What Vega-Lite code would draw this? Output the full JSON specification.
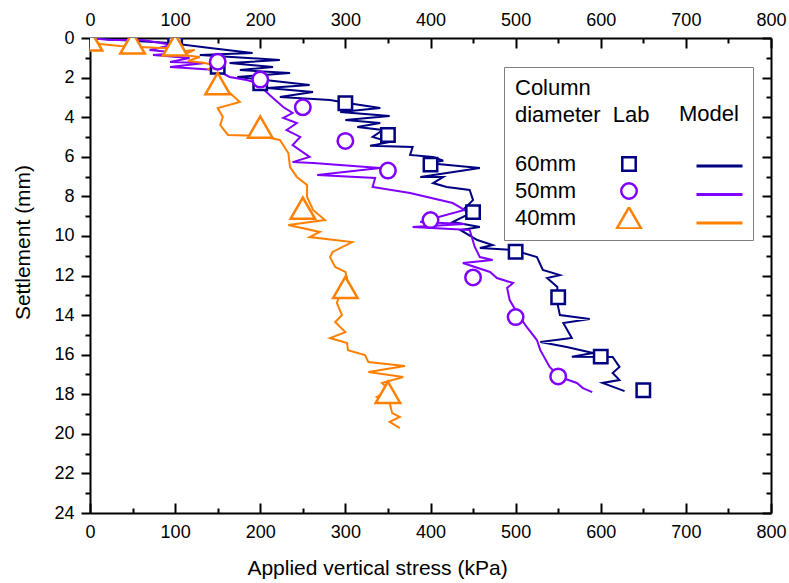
{
  "$schema": "https://vega.github.io/schema/vega-lite/v6.json",
  "width": 681,
  "height": 475,
  "autosize": {"type": "none"},
  "padding": {"left": 90, "top": 38, "right": 18, "bottom": 70},
  "background": "white",
  "config": {
    "view": {"stroke": null},
    "font": "Liberation Sans",
    "axis": {
      "domainColor": "black", "domainWidth": 2, "tickColor": "black", "tickWidth": 2,
      "labelFont": "Liberation Sans", "labelFontSize": 18, "labelColor": "black",
      "titleFont": "Liberation Sans", "titleFontSize": 21, "titleFontWeight": "normal", "titleColor": "black",
      "grid": false, "labelOverlap": false, "labelFlush": false
    },
    "legend": {
      "labelFont": "Liberation Sans", "titleFont": "Liberation Sans",
      "labelColor": "black", "titleColor": "black", "titleFontWeight": "normal"
    }
  },
  "datasets": {
    "model": [
      {"d":"60mm","i":0,"x":0,"y":0},{"d":"60mm","i":1,"x":35,"y":0.1},{"d":"60mm","i":2,"x":94,"y":0.25},{"d":"60mm","i":3,"x":141,"y":0.51},{"d":"60mm","i":4,"x":191,"y":0.76},{"d":"60mm","i":5,"x":129,"y":0.86},{"d":"60mm","i":6,"x":223,"y":1.11},{"d":"60mm","i":7,"x":164,"y":1.26},{"d":"60mm","i":8,"x":215,"y":1.47},{"d":"60mm","i":9,"x":176,"y":1.62},{"d":"60mm","i":10,"x":235,"y":1.77},{"d":"60mm","i":11,"x":173,"y":1.97},{"d":"60mm","i":12,"x":258,"y":2.37},{"d":"60mm","i":13,"x":208,"y":2.53},{"d":"60mm","i":14,"x":262,"y":2.73},{"d":"60mm","i":15,"x":223,"y":2.98},{"d":"60mm","i":16,"x":282,"y":3.13},{"d":"60mm","i":17,"x":302,"y":3.28},{"d":"60mm","i":18,"x":341,"y":3.54},{"d":"60mm","i":19,"x":294,"y":3.74},{"d":"60mm","i":20,"x":352,"y":3.94},{"d":"60mm","i":21,"x":300,"y":4.14},{"d":"60mm","i":22,"x":341,"y":4.3},{"d":"60mm","i":23,"x":314,"y":4.5},{"d":"60mm","i":24,"x":344,"y":4.65},{"d":"60mm","i":25,"x":332,"y":5.0},{"d":"60mm","i":26,"x":352,"y":5.26},{"d":"60mm","i":27,"x":329,"y":5.45},{"d":"60mm","i":28,"x":379,"y":5.51},{"d":"60mm","i":29,"x":376,"y":5.91},{"d":"60mm","i":30,"x":403,"y":6.01},{"d":"60mm","i":31,"x":415,"y":6.2},{"d":"60mm","i":32,"x":396,"y":6.32},{"d":"60mm","i":33,"x":458,"y":6.57},{"d":"60mm","i":34,"x":388,"y":7.02},{"d":"60mm","i":35,"x":415,"y":7.02},{"d":"60mm","i":36,"x":403,"y":7.33},{"d":"60mm","i":37,"x":419,"y":7.53},{"d":"60mm","i":38,"x":446,"y":7.68},{"d":"60mm","i":39,"x":450,"y":8.19},{"d":"60mm","i":40,"x":438,"y":8.69},{"d":"60mm","i":41,"x":450,"y":8.79},{"d":"60mm","i":42,"x":426,"y":9.3},{"d":"60mm","i":43,"x":458,"y":9.55},{"d":"60mm","i":44,"x":435,"y":9.7},{"d":"60mm","i":45,"x":455,"y":10.21},{"d":"60mm","i":46,"x":473,"y":10.46},{"d":"60mm","i":47,"x":458,"y":10.61},{"d":"60mm","i":48,"x":497,"y":10.71},{"d":"60mm","i":49,"x":525,"y":11.07},{"d":"60mm","i":50,"x":532,"y":11.72},{"d":"60mm","i":51,"x":552,"y":11.98},{"d":"60mm","i":52,"x":537,"y":12.13},{"d":"60mm","i":53,"x":549,"y":12.58},{"d":"60mm","i":54,"x":549,"y":13.39},{"d":"60mm","i":55,"x":552,"y":14.0},{"d":"60mm","i":56,"x":587,"y":14.2},{"d":"60mm","i":57,"x":556,"y":14.4},{"d":"60mm","i":58,"x":566,"y":15.16},{"d":"60mm","i":59,"x":529,"y":15.36},{"d":"60mm","i":60,"x":560,"y":15.61},{"d":"60mm","i":61,"x":591,"y":15.92},{"d":"60mm","i":62,"x":566,"y":16.1},{"d":"60mm","i":63,"x":614,"y":16.12},{"d":"60mm","i":64,"x":622,"y":16.62},{"d":"60mm","i":65,"x":614,"y":16.93},{"d":"60mm","i":66,"x":622,"y":17.28},{"d":"60mm","i":67,"x":602,"y":17.43},{"d":"60mm","i":68,"x":628,"y":17.84},
      {"d":"50mm","i":0,"x":0,"y":0},{"d":"50mm","i":1,"x":23,"y":0.1},{"d":"50mm","i":2,"x":62,"y":0.1},{"d":"50mm","i":3,"x":97,"y":0.35},{"d":"50mm","i":4,"x":70,"y":0.61},{"d":"50mm","i":5,"x":106,"y":0.76},{"d":"50mm","i":6,"x":74,"y":0.86},{"d":"50mm","i":7,"x":117,"y":1.01},{"d":"50mm","i":8,"x":94,"y":1.21},{"d":"50mm","i":9,"x":135,"y":1.26},{"d":"50mm","i":10,"x":94,"y":1.47},{"d":"50mm","i":11,"x":149,"y":1.62},{"d":"50mm","i":12,"x":164,"y":1.97},{"d":"50mm","i":13,"x":184,"y":2.12},{"d":"50mm","i":14,"x":196,"y":2.27},{"d":"50mm","i":15,"x":211,"y":2.88},{"d":"50mm","i":16,"x":227,"y":3.49},{"d":"50mm","i":17,"x":238,"y":3.79},{"d":"50mm","i":18,"x":227,"y":4.04},{"d":"50mm","i":19,"x":243,"y":4.3},{"d":"50mm","i":20,"x":231,"y":4.65},{"d":"50mm","i":21,"x":247,"y":5.0},{"d":"50mm","i":22,"x":238,"y":5.41},{"d":"50mm","i":23,"x":258,"y":6.01},{"d":"50mm","i":24,"x":238,"y":6.27},{"d":"50mm","i":25,"x":262,"y":6.32},{"d":"50mm","i":26,"x":341,"y":6.57},{"d":"50mm","i":27,"x":267,"y":6.92},{"d":"50mm","i":28,"x":335,"y":7.07},{"d":"50mm","i":29,"x":332,"y":7.53},{"d":"50mm","i":30,"x":376,"y":7.83},{"d":"50mm","i":31,"x":426,"y":8.34},{"d":"50mm","i":32,"x":440,"y":8.69},{"d":"50mm","i":33,"x":388,"y":9.3},{"d":"50mm","i":34,"x":440,"y":9.4},{"d":"50mm","i":35,"x":379,"y":9.55},{"d":"50mm","i":36,"x":446,"y":9.7},{"d":"50mm","i":37,"x":452,"y":10.56},{"d":"50mm","i":38,"x":458,"y":11.07},{"d":"50mm","i":39,"x":473,"y":11.22},{"d":"50mm","i":40,"x":438,"y":11.37},{"d":"50mm","i":41,"x":470,"y":11.82},{"d":"50mm","i":42,"x":478,"y":12.13},{"d":"50mm","i":43,"x":497,"y":12.38},{"d":"50mm","i":44,"x":490,"y":12.63},{"d":"50mm","i":45,"x":493,"y":13.24},{"d":"50mm","i":46,"x":502,"y":13.9},{"d":"50mm","i":47,"x":513,"y":14.6},{"d":"50mm","i":48,"x":525,"y":15.26},{"d":"50mm","i":49,"x":529,"y":15.77},{"d":"50mm","i":50,"x":540,"y":16.62},{"d":"50mm","i":51,"x":552,"y":17.13},{"d":"50mm","i":52,"x":572,"y":17.43},{"d":"50mm","i":53,"x":579,"y":17.69},{"d":"50mm","i":54,"x":590,"y":17.89},
      {"d":"40mm","i":0,"x":0,"y":0.1},{"d":"40mm","i":1,"x":12,"y":0.3},{"d":"40mm","i":2,"x":35,"y":0.4},{"d":"40mm","i":3,"x":59,"y":0.45},{"d":"40mm","i":4,"x":82,"y":0.5},{"d":"40mm","i":5,"x":100,"y":0.5},{"d":"40mm","i":6,"x":112,"y":0.66},{"d":"40mm","i":7,"x":123,"y":0.6},{"d":"40mm","i":8,"x":109,"y":0.86},{"d":"40mm","i":9,"x":129,"y":0.96},{"d":"40mm","i":10,"x":115,"y":1.16},{"d":"40mm","i":11,"x":135,"y":1.26},{"d":"40mm","i":12,"x":147,"y":1.41},{"d":"40mm","i":13,"x":139,"y":1.57},{"d":"40mm","i":14,"x":150,"y":1.87},{"d":"40mm","i":15,"x":153,"y":2.37},{"d":"40mm","i":16,"x":167,"y":2.88},{"d":"40mm","i":17,"x":176,"y":3.23},{"d":"40mm","i":18,"x":150,"y":3.54},{"d":"40mm","i":19,"x":156,"y":3.99},{"d":"40mm","i":20,"x":153,"y":4.4},{"d":"40mm","i":21,"x":162,"y":4.9},{"d":"40mm","i":22,"x":200,"y":4.95},{"d":"40mm","i":23,"x":223,"y":5.15},{"d":"40mm","i":24,"x":233,"y":5.81},{"d":"40mm","i":25,"x":235,"y":6.52},{"d":"40mm","i":26,"x":243,"y":7.02},{"d":"40mm","i":27,"x":255,"y":7.43},{"d":"40mm","i":28,"x":255,"y":8.03},{"d":"40mm","i":29,"x":262,"y":8.69},{"d":"40mm","i":30,"x":276,"y":9.2},{"d":"40mm","i":31,"x":233,"y":9.45},{"d":"40mm","i":32,"x":270,"y":9.8},{"d":"40mm","i":33,"x":258,"y":10.06},{"d":"40mm","i":34,"x":308,"y":10.31},{"d":"40mm","i":35,"x":285,"y":10.81},{"d":"40mm","i":36,"x":282,"y":11.07},{"d":"40mm","i":37,"x":288,"y":11.57},{"d":"40mm","i":38,"x":300,"y":11.82},{"d":"40mm","i":39,"x":302,"y":12.13},{"d":"40mm","i":40,"x":294,"y":12.89},{"d":"40mm","i":41,"x":290,"y":13.39},{"d":"40mm","i":42,"x":296,"y":14.0},{"d":"40mm","i":43,"x":288,"y":14.35},{"d":"40mm","i":44,"x":300,"y":14.86},{"d":"40mm","i":45,"x":282,"y":15.16},{"d":"40mm","i":46,"x":302,"y":15.41},{"d":"40mm","i":47,"x":303,"y":15.77},{"d":"40mm","i":48,"x":323,"y":16.02},{"d":"40mm","i":49,"x":327,"y":16.37},{"d":"40mm","i":50,"x":370,"y":16.57},{"d":"40mm","i":51,"x":327,"y":16.88},{"d":"40mm","i":52,"x":368,"y":17.13},{"d":"40mm","i":53,"x":343,"y":17.43},{"d":"40mm","i":54,"x":352,"y":17.79},{"d":"40mm","i":55,"x":337,"y":18.14},{"d":"40mm","i":56,"x":352,"y":18.44},{"d":"40mm","i":57,"x":355,"y":18.95},{"d":"40mm","i":58,"x":364,"y":19.15},{"d":"40mm","i":59,"x":352,"y":19.4},{"d":"40mm","i":60,"x":364,"y":19.71}
    ],
    "lab": [
      {"d":"60mm","x":100,"y":0.3},{"d":"60mm","x":150,"y":1.45},{"d":"60mm","x":200,"y":2.29},{"d":"60mm","x":300,"y":3.3},{"d":"60mm","x":350,"y":4.9},{"d":"60mm","x":400,"y":6.4},{"d":"60mm","x":450,"y":8.8},{"d":"60mm","x":500,"y":10.8},{"d":"60mm","x":550,"y":13.1},{"d":"60mm","x":600,"y":16.1},{"d":"60mm","x":650,"y":17.8},
      {"d":"50mm","x":150,"y":1.2},{"d":"50mm","x":200,"y":2.1},{"d":"50mm","x":250,"y":3.5},{"d":"50mm","x":300,"y":5.2},{"d":"50mm","x":350,"y":6.7},{"d":"50mm","x":400,"y":9.2},{"d":"50mm","x":450,"y":12.1},{"d":"50mm","x":500,"y":14.1},{"d":"50mm","x":550,"y":17.1},
      {"d":"40mm","x":0,"y":0.1},{"d":"40mm","x":50,"y":0.25},{"d":"40mm","x":100,"y":0.35},{"d":"40mm","x":150,"y":2.3},{"d":"40mm","x":200,"y":4.5},{"d":"40mm","x":250,"y":8.6},{"d":"40mm","x":300,"y":12.6},{"d":"40mm","x":350,"y":17.9}
    ]
  },
  "layer": [
    {
      "data": {"name": "model"},
      "mark": {"type": "line", "strokeWidth": 2, "clip": true},
      "encoding": {
        "x": {
          "field": "x", "type": "quantitative",
          "scale": {"domain": [0, 800], "nice": false},
          "axis": {
            "orient": "bottom",
            "values": [0,50,100,150,200,250,300,350,400,450,500,550,600,650,700,750,800],
            "labelExpr": "datum.value % 100 === 0 ? datum.label : ''",
            "tickSize": {"condition": {"test": "datum.value % 100 === 0", "value": -10}, "value": -5},
            "labelPadding": 20,
            "title": "Applied vertical stress (kPa)",
            "titleX": 287, "titleY": 55, "titleAnchor": "middle", "titleAlign": "center", "titleBaseline": "middle"
          }
        },
        "y": {
          "field": "y", "type": "quantitative",
          "scale": {"domain": [0, 24], "reverse": true, "nice": false},
          "axis": {
            "orient": "left",
            "values": [0,1,2,3,4,5,6,7,8,9,10,11,12,13,14,15,16,17,18,19,20,21,22,23,24],
            "labelExpr": "datum.value % 2 === 0 ? datum.label : ''",
            "tickSize": {"condition": {"test": "datum.value % 2 === 0", "value": 9}, "value": 5},
            "labelPadding": 7,
            "title": "Settlement (mm)",
            "titleX": -67, "titleY": 204, "titleAngle": 270, "titleAlign": "center", "titleBaseline": "middle"
          }
        },
        "color": {
          "field": "d", "type": "nominal", "sort": ["60mm", "50mm", "40mm"],
          "scale": {"range": ["#000080", "#8000FF", "#FF8000"]},
          "legend": {
            "orient": "none", "legendX": 589, "legendY": 66, "padding": 0,
            "title": "Model", "titleFontSize": 22, "titlePadding": 29,
            "symbolType": "stroke", "symbolSize": 2116, "symbolStrokeWidth": 3, "symbolOffset": 16,
            "labelExpr": "''", "labelFontSize": 22, "clipHeight": 22, "rowPadding": 6.5
          }
        },
        "order": {"field": "i", "type": "quantitative"}
      }
    },
    {
      "data": {"name": "lab"},
      "mark": {"type": "point", "filled": false, "fill": "white", "strokeWidth": 2.5, "clip": true, "opacity": 1},
      "encoding": {
        "x": {
          "field": "x", "type": "quantitative",
          "axis": {
            "orient": "top",
            "values": [0,50,100,150,200,250,300,350,400,450,500,550,600,650,700,750,800],
            "labelExpr": "datum.value % 100 === 0 ? datum.label : ''",
            "tickSize": {"condition": {"test": "datum.value % 100 === 0", "value": -10}, "value": -5},
            "labelPadding": 19,
            "title": null
          }
        },
        "y": {
          "field": "y", "type": "quantitative",
          "axis": {
            "orient": "right",
            "values": [0,1,2,3,4,5,6,7,8,9,10,11,12,13,14,15,16,17,18,19,20,21,22,23,24],
            "labelExpr": "''",
            "tickSize": {"condition": {"test": "datum.value % 2 === 0", "value": -9}, "value": -5},
            "title": null
          }
        },
        "shape": {
          "field": "d", "type": "nominal",
          "scale": {"domain": ["60mm", "50mm", "40mm"], "range": ["square", "circle", "triangle-up"]},
          "legend": {
            "orient": "none", "legendX": 414, "legendY": 29, "padding": 11,
            "strokeColor": "#7f7f7f",
            "title": ["Column", "diameter\u00a0\u00a0Lab"],
            "titleFontSize": 22, "titleLineHeight": 27, "titlePadding": 26, "titleLimit": 600, "titleAnchor": "start",
            "labelExpr": "datum.label + '\u00a0\u00a0\u00a0\u00a0\u00a0\u00a0\u00a0\u00a0\u00a0\u00a0\u00a0\u00a0\u00a0\u00a0\u00a0\u00a0\u00a0\u00a0\u00a0\u00a0\u00a0\u00a0\u00a0\u00a0\u00a0\u00a0\u00a0\u200b'",
            "labelFontSize": 22, "labelOffset": -127.5, "labelLimit": 400, "symbolOffset": 100.5,
            "clipHeight": 22, "rowPadding": 5,
            "symbolStrokeWidth": 2.5, "symbolFillColor": "white"
          }
        },
        "stroke": {
          "field": "d", "type": "nominal",
          "scale": {"domain": ["60mm", "50mm", "40mm"], "range": ["#000080", "#8000FF", "#FF8000"]}
        },
        "size": {
          "field": "d", "type": "nominal",
          "scale": {"type": "ordinal", "domain": ["60mm", "50mm", "40mm"], "range": [180, 240, 600]}
        }
      }
    }
  ],
  "resolve": {"axis": {"x": "independent", "y": "independent"}}
}
